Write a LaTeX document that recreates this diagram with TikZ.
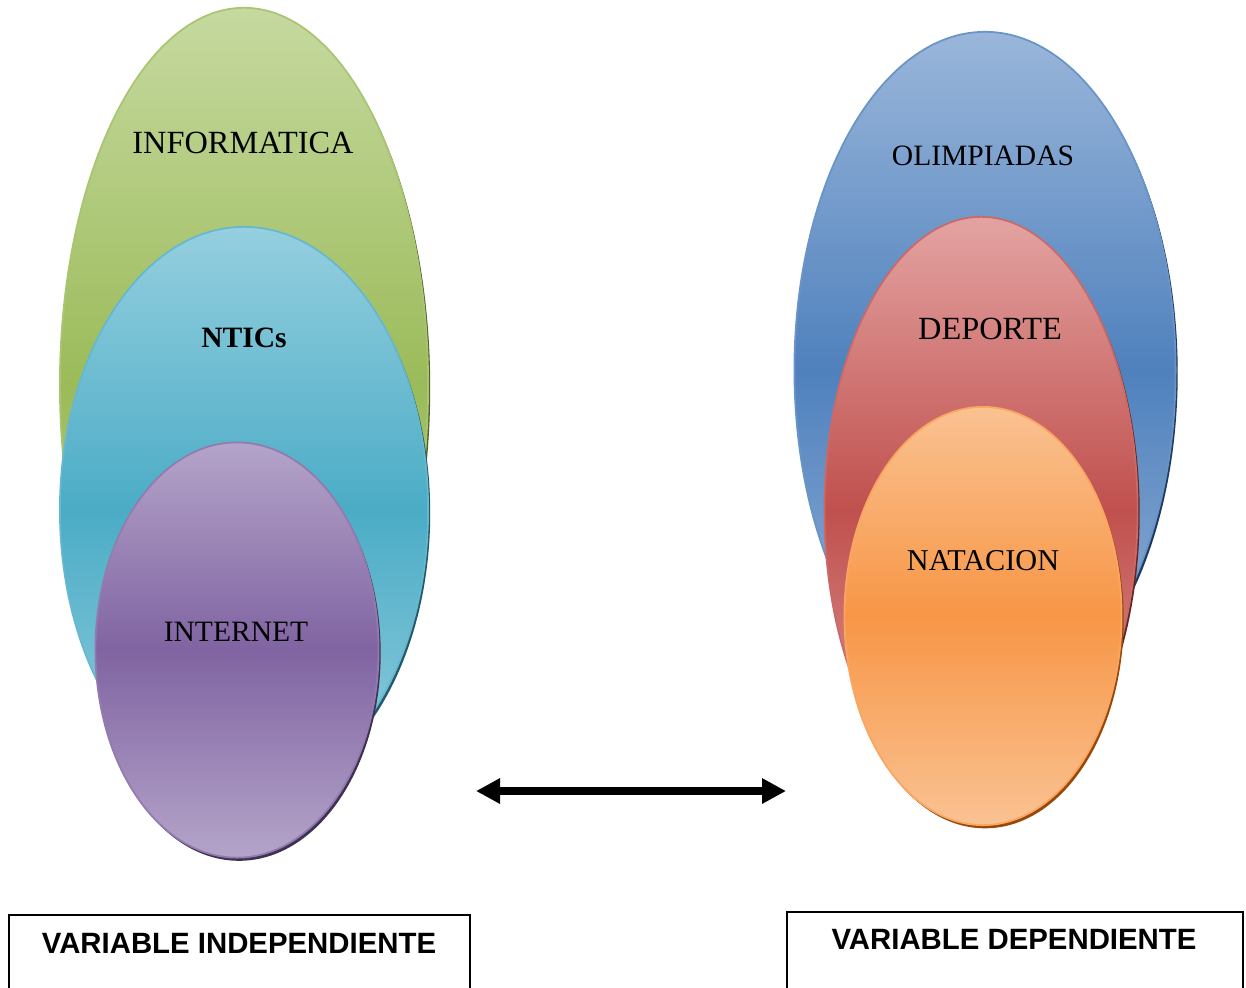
\documentclass[tikz,border=0pt]{standalone}
\usepackage{fontspec}
\setmainfont{Liberation Serif}
\newfontfamily\arialfont{Liberation Sans}
\usetikzlibrary{shapes.geometric,shadows,arrows.meta}
\definecolor{gTop}{HTML}{C6D9A0}\definecolor{gMid}{HTML}{9BBB59}\definecolor{gSh}{HTML}{4F6228}
\definecolor{cTop}{HTML}{95CFDF}\definecolor{cMid}{HTML}{4BACC6}\definecolor{cSh}{HTML}{215968}
\definecolor{pTop}{HTML}{B4A4C9}\definecolor{pMid}{HTML}{8064A2}\definecolor{pSh}{HTML}{3F3151}
\definecolor{bTop}{HTML}{9AB6DA}\definecolor{bMid}{HTML}{4F81BD}\definecolor{bSh}{HTML}{1F3A5F}
\definecolor{rTop}{HTML}{E3A3A2}\definecolor{rMid}{HTML}{C0504D}\definecolor{rSh}{HTML}{632523}
\definecolor{oTop}{HTML}{FAC292}\definecolor{oMid}{HTML}{F79646}\definecolor{oSh}{HTML}{984807}
\tikzset{
  blob/.style n args={3}{ellipse, inner sep=0pt, line width=0.5pt, draw=#2!85!white,
    top color=#1, bottom color=#1, middle color=#2,
    drop shadow={shadow xshift=0.6pt, shadow yshift=-0.9pt, fill=#3, opacity=1}},
  lbl/.style={font=\fontsize{8.4pt}{10pt}\selectfont, inner sep=0pt},
  lblbig/.style={font=\fontsize{9.2pt}{11pt}\selectfont, inner sep=0pt},
  varbox/.style={draw=black, line width=0.6pt, fill=white, anchor=north west, minimum height=1.2cm, inner sep=0pt},
  vartext/.style={font=\arialfont\bfseries\fontsize{8.35pt}{10pt}\selectfont, inner sep=0pt},
  dblarrow/.style={line width=2.3pt, {Triangle[length=0.24cm,width=0.24cm]}-{Triangle[length=0.24cm,width=0.24cm]}}
}
\begin{document}
\begin{tikzpicture}[x=0.01cm,y=-0.01cm]
\useasboundingbox (0,0) rectangle (1246,987);
\clip (0,0) rectangle (1246,987);
% left group
\node[blob={gTop}{gMid}{gSh}, minimum width=3.68cm, minimum height=7.54cm] (info) at (244,385) {};
\node[blob={cTop}{cMid}{cSh}, minimum width=3.68cm, minimum height=5.66cm] (ntic) at (244,510) {};
\node[blob={pTop}{pMid}{pSh}, minimum width=2.83cm, minimum height=4.15cm] (inter) at (237,650) {};
\node[lblbig] (tinfo) at (243,143) {INFORMATICA};
\node[lbl] (tntic) at (244,338) {\bfseries NTICs};
\node[lbl] (tinter) at (236,632) {INTERNET};
% right group
\node[blob={bTop}{bMid}{bSh}, minimum width=3.81cm, minimum height=6.76cm] (olim) at (985,370) {};
\node[blob={rTop}{rMid}{rSh}, minimum width=3.13cm, minimum height=5.86cm] (dep) at (981,510) {};
\node[blob={oTop}{oMid}{oSh}, minimum width=2.77cm, minimum height=4.18cm] (nat) at (983,616) {};
\node[lbl] (tolim) at (983,156) {OLIMPIADAS};
\node[lblbig] (tdep) at (990,329) {DEPORTE};
\node[font=\fontsize{8.6pt}{10pt}\selectfont, inner sep=0pt] (tnat) at (983,561) {NATACION};
% arrow
\coordinate (aL) at (476,791);
\coordinate (aR) at (786,791);
\draw[dblarrow] (aL) -- (aR);
% boxes
\node[varbox, minimum width=4.61cm] (boxL) at (8,914) {};
\node[vartext] (txtL) at (239,943) {VARIABLE INDEPENDIENTE};
\node[varbox, minimum width=4.56cm] (boxR) at (786,911) {};
\node[vartext] (txtR) at (1014,939) {VARIABLE DEPENDIENTE};
\end{tikzpicture}
\end{document}
